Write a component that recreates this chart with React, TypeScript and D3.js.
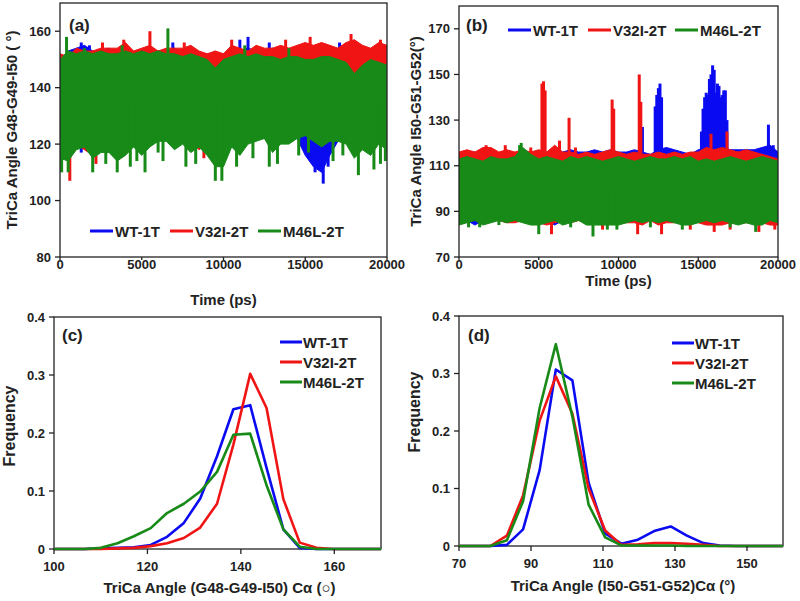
import React from 'react';
import * as d3 from 'd3';

// ---------- colours ----------
const BLUE = '#0b0bf2';
const RED = '#f01414';
const GREEN = '#188a18';
const SERIES = ['WT-1T', 'V32I-2T', 'M46L-2T'];
const COLORS = [BLUE, RED, GREEN];

// ---------- time grid (ps) ----------
const timeGrid = d3.range(0, 20001, 500);

// ---------- panel (a) envelopes: G48-G49-I50 ----------
const aBlueHi = [150,153,154,155,153,153,154,152,153,152,153,152,153,152,154,152,153,152,152,151,152,154,153,154,153,152,154,152,153,152,151,152,153,152,154,153,152,153,152,152,150];
const aBlueLo = [120,120,119,120,121,120,120,120,121,121,121,122,122,122,121,121,120,121,120,120,121,121,122,122,123,122,121,122,123,122,116,112,110,116,121,122,122,121,122,122,121];
const aRedHi = [152,151,154,153,153,154,154,154,156,153,154,155,153,154,154,154,155,153,152,153,152,155,154,153,155,154,154,155,154,155,156,155,156,155,154,156,157,155,154,156,155];
const aRedLo = [120,118,120,118,116,121,120,121,121,121,121,122,122,122,121,121,121,118,120,120,121,121,122,122,124,123,122,122,124,124,124,122,122,124,124,124,123,122,124,122,121];
const aGreenHi = [150,153,152,153,152,153,152,152,153,152,153,152,153,152,152,151,152,151,150,147,150,151,152,151,152,151,151,150,151,151,150,150,151,151,150,149,145,148,150,149,148];
const aGreenLo = [115,114,118,119,115,117,117,114,116,119,116,119,121,121,118,120,117,119,116,112,112,119,116,120,121,122,117,120,120,122,123,121,119,121,121,120,115,118,116,120,118];
// isolated spikes [time, value]
const aBlueSpikes = [[1300,156],[1800,155],[6900,156],[11000,157],[11500,158],[12800,156],[17100,156],[1300,117],[1500,120],[8000,118],[13200,120],[15600,110],[15800,112],[16100,106],[16400,112],[16700,122],[19000,125]];
const aRedSpikes = [[5500,160],[17800,159],[13800,157],[15300,158],[19600,157],[3900,157],[2600,156],[7600,156],[10500,157],[600,107],[1600,119],[2200,113],[8800,115],[18200,135],[18300,138]];
const aGreenSpikes = [[400,158],[3800,155],[6600,161],[1500,154],[11300,155],[14000,154],[100,110],[500,110],[2000,110],[2800,113],[3500,110],[4300,112],[4700,114],[5200,110],[6000,117],[6300,114],[7700,112],[8300,113],[9500,107],[9900,107],[10800,112],[11800,115],[12800,112],[13300,113],[14600,116],[15200,117],[16700,114],[17300,116],[18250,109],[19200,111],[19600,113],[19900,114]];

// ---------- panel (b) envelopes: I50-G51-G52 ----------
const bBlueHi = [115,116,116,115,116,115,116,115,115,116,116,116,117,116,117,116,116,117,116,117,116,116,117,116,115,117,118,117,116,115,117,118,117,118,117,117,117,117,118,119,116];
const bBlueLo = [86,86,84,86,87,86,86,86,86,86,86,86,84,86,86,86,86,86,85,86,86,86,86,86,86,86,86,86,85,87,86,86,86,86,86,86,86,86,86,86,86];
const bRedHi = [116,117,116,118,118,116,117,116,117,116,117,116,119,116,116,115,116,115,116,117,116,115,116,115,115,116,115,116,115,116,116,118,117,118,117,116,117,116,115,114,113];
const bRedLo = [86,86,87,85,86,86,85,85,86,85,85,84,85,86,85,86,85,85,85,86,85,85,85,84,86,84,85,85,86,86,85,84,84,84,85,85,85,85,85,84,84];
const bGreenHi = [113,114,113,112,114,113,113,114,118,115,113,114,113,112,114,113,114,113,112,113,114,113,112,113,114,113,113,114,113,114,112,113,112,113,114,113,112,113,114,113,112];
const bGreenLo = [84,85,86,84,85,86,85,86,85,84,84,85,86,84,85,86,84,84,84,84,84,85,86,85,86,85,86,85,84,84,85,86,85,86,85,84,85,84,84,86,85];
const bBlueSpikes = [[11500,127],[12300,136],[12400,141],[12500,144],[12600,146],[12700,140],[15200,125],[15300,135],[15400,140],[15500,142],[15600,141],[15700,148],[15800,150],[15900,154],[16000,152],[16100,142],[16200,146],[16300,145],[16400,140],[16500,141],[16600,143],[16700,143],[16800,130],[19400,128],[19700,119]];
const bRedSpikes = [[5200,146],[5300,147],[5400,143],[6300,121],[6900,131],[9600,139],[9700,135],[11300,150],[11400,138],[15800,124],[16800,125],[1700,119],[2900,119],[4500,118],[7300,118],[5800,80],[11200,80],[12700,80],[16000,81],[17000,82],[18800,81],[19800,82],[9000,82],[14500,82]];
const bGreenSpikes = [[3800,119],[3900,120],[8400,79],[5000,80],[18600,81],[9900,82],[600,83],[1300,83],[2500,84],[7000,83],[9300,82],[12000,83],[14000,82],[17000,83]];

// ---------- panel (c) histogram ----------
const cBins = [100,103,106.5,110,113.6,117.1,120.7,124.2,127.8,131.3,134.9,138.4,142,145.5,149.1,152.6,156.2,159.7,163.3,166.8,170];
const cBlue = [0,0,0,0.001,0.002,0.003,0.007,0.021,0.045,0.087,0.16,0.241,0.248,0.14,0.034,0.002,0,0,0,0,0];
const cRed = [0,0,0,0,0.001,0.002,0.005,0.01,0.019,0.037,0.078,0.18,0.302,0.243,0.086,0.011,0.002,0,0,0,0];
const cGreen = [0,0,0,0.002,0.01,0.022,0.036,0.062,0.078,0.099,0.133,0.197,0.199,0.11,0.034,0.004,0,0,0,0,0];

// ---------- panel (d) histogram ----------
const dBins = [70,78.7,83.3,87.8,92.4,96.9,101.5,106,110.6,115.1,119.7,124.2,128.8,133.3,137.9,142.4,147,151.5,160];
const dBlue = [0,0,0.002,0.029,0.132,0.307,0.288,0.11,0.022,0.004,0.011,0.026,0.034,0.018,0.005,0.001,0,0,0];
const dRed = [0,0,0.018,0.088,0.218,0.295,0.23,0.1,0.027,0.002,0.003,0.005,0.005,0.004,0.002,0,0,0,0];
const dGreen = [0,0,0.01,0.078,0.24,0.351,0.225,0.072,0.015,0.001,0.001,0.001,0.001,0,0,0,0,0,0];

// ---------- axis ticks ----------
const timeTicks = [0, 5000, 10000, 15000, 20000];
const aYTicks = [80, 100, 120, 140, 160];
const bYTicks = [70, 90, 110, 130, 150, 170];
const cXTicks = [100, 120, 140, 160];
const dXTicks = [70, 90, 110, 130, 150];
const freqTicks = [0, 0.1, 0.2, 0.3, 0.4];

const FONT = '"Liberation Sans", Arial, Helvetica, sans-serif';

type Box = { l: number; r: number; t: number; b: number };

function Frame({ box }: { box: Box }) {
  return (
    <rect x={box.l} y={box.t} width={box.r - box.l} height={box.b - box.t}
      fill="none" stroke="#222" strokeWidth={1.3} />
  );
}

function Axes({ box, xs, ys, xTicks, yTicks, fmtY, xLabelY, tickLen }: any) {
  return (
    <g fontFamily={FONT} fontWeight="bold" fontSize={13} fill="#222">
      {xTicks.map((v: number) => (
        <g key={'x' + v}>
          <line x1={xs(v)} x2={xs(v)} y1={box.b} y2={box.b + tickLen} stroke="#222" strokeWidth={1.3} />
          <text x={xs(v)} y={xLabelY} textAnchor="middle">{v}</text>
        </g>
      ))}
      {yTicks.map((v: number) => (
        <g key={'y' + v}>
          <line x1={box.l - 5} x2={box.l} y1={ys(v)} y2={ys(v)} stroke="#222" strokeWidth={1.3} />
          <text x={box.l - 9} y={ys(v) + 4.5} textAnchor="end">{fmtY(v)}</text>
        </g>
      ))}
    </g>
  );
}

function TimePanel({ id, box, yDomain, yTicks, env, spikes, base, ytitle, ytitleX, label, labelX, labelY, xTitleY, legend }: any) {
  const xs = d3.scaleLinear().domain([0, 20000]).range([box.l, box.r]);
  const ys = d3.scaleLinear().domain(yDomain).range([box.b, box.t]);
  const area = d3.area<any>().x((d) => xs(d.t)).y0((d) => ys(d.lo)).y1((d) => ys(d.hi));
  return (
    <g>
      <defs>
        <clipPath id={id}>
          <rect x={box.l} y={box.t} width={box.r - box.l} height={box.b - box.t} />
        </clipPath>
      </defs>
      <g clipPath={`url(#${id})`}>
        {env.map((s: any, i: number) => {
          const pts = timeGrid.map((t, k) => ({ t, hi: s.hi[k], lo: s.lo[k] }));
          return (
            <g key={i}>
              <path d={area(pts) as string} fill={COLORS[i]} stroke={COLORS[i]} strokeWidth={1} />
              {spikes[i].map((p: number[], k: number) => (
                <line key={k} x1={xs(p[0])} x2={xs(p[0])} y1={ys(base)} y2={ys(p[1])}
                  stroke={COLORS[i]} strokeWidth={3} />
              ))}
            </g>
          );
        })}
      </g>
      <Frame box={box} />
      <Axes box={box} xs={xs} ys={ys} xTicks={timeTicks} yTicks={yTicks} fmtY={(v: number) => v} xLabelY={box.b + 12} tickLen={3} />
      <text x={labelX} y={labelY} fontFamily={FONT} fontWeight="bold" fontSize={17} fill="#222">{label}</text>
      <text transform={`translate(${ytitleX},${(box.t + box.b) / 2}) rotate(-90)`} textAnchor="middle"
        fontFamily={FONT} fontWeight="bold" fontSize={15} fill="#222">{ytitle}</text>
      <text x={(box.l + box.r) / 2} y={xTitleY} textAnchor="middle" fontFamily={FONT} fontWeight="bold" fontSize={15} fill="#222">Time (ps)</text>
      {legend.map((g: any, i: number) => (
        <g key={i}>
          <line x1={g.x} x2={g.x + 23} y1={g.y} y2={g.y} stroke={COLORS[i]} strokeWidth={3} />
          <text x={g.x + 25} y={g.y + 5.5} fontFamily={FONT} fontWeight="bold" fontSize={15} fill="#222">{SERIES[i]}</text>
        </g>
      ))}
    </g>
  );
}

function HistPanel({ box, xDomain, xTicks, bins, series, label, labelX, labelY, xtitle, xTitleY, ytitleX, ytitleY, legX, legY }: any) {
  const xs = d3.scaleLinear().domain(xDomain).range([box.l, box.r]);
  const ys = d3.scaleLinear().domain([0, 0.4]).range([box.b, box.t]);
  const line = d3.line<number>().x((_, k) => xs(bins[k])).y((d) => ys(d));
  return (
    <g>
      <Frame box={box} />
      {series.map((s: number[], i: number) => (
        <path key={i} d={line(s) as string} fill="none" stroke={COLORS[i]} strokeWidth={2.6} strokeLinejoin="round" />
      ))}
      <Axes box={box} xs={xs} ys={ys} xTicks={xTicks} yTicks={freqTicks}
        fmtY={(v: number) => (v === 0 ? '0' : d3.format('.1f')(v))} xLabelY={box.b + 22} tickLen={5} />
      <text x={labelX} y={labelY} fontFamily={FONT} fontWeight="bold" fontSize={17} fill="#222">{label}</text>
      <text transform={`translate(${ytitleX},${ytitleY}) rotate(-90)`} textAnchor="middle"
        fontFamily={FONT} fontWeight="bold" fontSize={16} fill="#222">Frequency</text>
      <text x={(box.l + box.r) / 2 + 2} y={xTitleY} textAnchor="middle" fontFamily={FONT} fontWeight="bold" fontSize={15} fill="#222">{xtitle}</text>
      {SERIES.map((n, i) => (
        <g key={n}>
          <line x1={legX} x2={legX + 22} y1={legY + i * 20} y2={legY + i * 20} stroke={COLORS[i]} strokeWidth={3} />
          <text x={legX + 23} y={legY + i * 20 + 5.5} fontFamily={FONT} fontWeight="bold" fontSize={15} fill="#222">{n}</text>
        </g>
      ))}
    </g>
  );
}

export default function App() {
  return (
    <svg width={800} height={601} style={{ position: 'absolute', left: 0, top: 0, background: '#fff' }}>
      <rect x={0} y={0} width={800} height={601} fill="#fff" />
      <TimePanel id="clipA" box={{ l: 60, r: 387, t: 3, b: 257 }} yDomain={[80, 170]} yTicks={aYTicks}
        env={[{ hi: aBlueHi, lo: aBlueLo }, { hi: aRedHi, lo: aRedLo }, { hi: aGreenHi, lo: aGreenLo }]}
        spikes={[aBlueSpikes, aRedSpikes, aGreenSpikes]} base={135}
        ytitle="TriCa Angle G48-G49-I50 ( °)" ytitleX={17} label="(a)" labelX={69} labelY={31} xTitleY={305}
        legend={[{ x: 90, y: 231 }, { x: 170, y: 231 }, { x: 258, y: 231 }]} />
      <TimePanel id="clipB" box={{ l: 459, r: 778, t: 6, b: 257 }} yDomain={[70, 180]} yTicks={bYTicks}
        env={[{ hi: bBlueHi, lo: bBlueLo }, { hi: bRedHi, lo: bRedLo }, { hi: bGreenHi, lo: bGreenLo }]}
        spikes={[bBlueSpikes, bRedSpikes, bGreenSpikes]} base={100}
        ytitle="TriCa Angle I50-G51-G52(°)" ytitleX={421} label="(b)" labelX={466} labelY={31} xTitleY={286}
        legend={[{ x: 508, y: 30 }, { x: 588, y: 30 }, { x: 675, y: 30 }]} />
      <HistPanel box={{ l: 54, r: 381, t: 317, b: 549 }} xDomain={[100, 170]} xTicks={cXTicks}
        bins={cBins} series={[cBlue, cRed, cGreen]} label="(c)" labelX={62} labelY={341}
        xtitle="TriCa Angle (G48-G49-I50) Cα (○)" xTitleY={593} ytitleX={15} ytitleY={426}
        legX={280} legY={342} />
      <HistPanel box={{ l: 459, r: 783, t: 316, b: 546 }} xDomain={[70, 160]} xTicks={dXTicks}
        bins={dBins} series={[dBlue, dRed, dGreen]} label="(d)" labelX={468} labelY={341}
        xtitle="TriCa Angle (I50-G51-G52)Cα (°)" xTitleY={591} ytitleX={420} ytitleY={412}
        legX={672} legY={343} />
    </svg>
  );
}
